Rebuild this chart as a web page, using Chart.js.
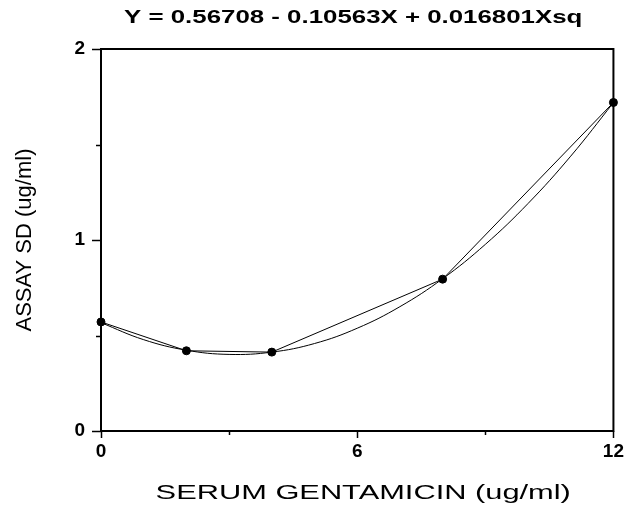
<!DOCTYPE html>
<html>
<head>
<meta charset="utf-8">
<script src="https://cdn.jsdelivr.net/npm/chart.js@4/dist/chart.umd.min.js"></script>
<style>
  html, body { margin: 0; padding: 0; background: #ffffff; }
  #wrap { width: 633px; height: 506px; }
</style>
</head>
<body>
<div id="wrap"><canvas id="c" width="633" height="506"></canvas></div>
<script>
// ---- data ----
const chartTitle = 'Y = 0.56708 - 0.10563X + 0.016801Xsq';
const xAxisTitle = 'SERUM GENTAMICIN (ug/ml)';
const yAxisTitle = 'ASSAY SD (ug/ml)';

// observed points
const concs = [0, 2, 4, 8, 12];
const sdValues = [0.571, 0.42, 0.413, 0.795, 1.72];

// fitted quadratic curve
const fitX = [0, 1, 2, 3, 4, 5, 6, 7, 8, 9, 10, 11, 12];
const fitY = [0.567, 0.478, 0.423, 0.401, 0.413, 0.458, 0.538, 0.651, 0.797, 0.977, 1.191, 1.439, 1.719];

const xTickLabels = [0, 6, 12];
const yTickLabels = [0, 1, 2];

// ---- helpers: widen text the way the reference's wide font looks ----
function wrapStretch(obj, method, sx, dx) {
  if (!obj || !obj[method] || obj[method].__ws) return;
  const orig = obj[method];
  const f = function (...args) {
    const ctx = this.ctx;
    const a = this.chart.chartArea;
    const cx = (a.left + a.right) / 2;
    ctx.save();
    ctx.translate(cx + (dx || 0), 0);
    ctx.scale(sx, 1);
    ctx.translate(-cx, 0);
    orig.apply(this, args);
    ctx.restore();
  };
  f.__ws = true;
  obj[method] = f;
}

const stretchPlugin = {
  id: 'stretch',
  beforeDraw(chart) {
    wrapStretch(chart.titleBlock, 'draw', 1.36, -4);
    wrapStretch(chart.scales.x, 'drawTitle', 1.54, 6);
  }
};

const framePlugin = {
  id: 'frame',
  afterDraw(chart) {
    const ctx = chart.ctx;
    const a = chart.chartArea;
    ctx.save();
    ctx.strokeStyle = '#000';
    ctx.lineWidth = 2;
    ctx.strokeRect(a.left, a.top, a.right - a.left, a.bottom - a.top);
    // tick marks (outside the frame)
    ctx.lineWidth = 1.5;
    const xs = chart.scales.x, ys = chart.scales.y;
    xs.ticks.forEach(t => {
      const px = Math.round(xs.getPixelForValue(t.value)) + 0.5;
      const len = xTickLabels.includes(t.value) ? 7 : 4;
      ctx.beginPath();
      ctx.moveTo(px, a.bottom);
      ctx.lineTo(px, a.bottom + len);
      ctx.stroke();
    });
    ys.ticks.forEach(t => {
      const py = Math.round(ys.getPixelForValue(t.value)) + 0.5;
      const len = yTickLabels.includes(t.value) ? 9 : 5;
      ctx.beginPath();
      ctx.moveTo(a.left - len, py);
      ctx.lineTo(a.left, py);
      ctx.stroke();
    });
    ctx.restore();
  }
};

const FONT = '"Liberation Sans", Arial, Helvetica, sans-serif';

new Chart(document.getElementById('c'), {
  type: 'scatter',
  data: {
    datasets: [
      {
        label: 'Observed',
        data: concs.map((x, i) => ({ x: x, y: sdValues[i] })),
        showLine: true,
        borderColor: '#000',
        backgroundColor: '#000',
        borderWidth: 1,
        pointRadius: 4,
        pointHoverRadius: 4,
        tension: 0,
        clip: false
      },
      {
        label: 'Fit',
        data: fitX.map((x, i) => ({ x: x, y: fitY[i] })),
        showLine: true,
        borderColor: '#000',
        backgroundColor: '#000',
        borderWidth: 1,
        pointRadius: 0,
        tension: 0.4,
        clip: false
      }
    ]
  },
  options: {
    responsive: false,
    devicePixelRatio: 1,
    animation: false,
    events: [],
    layout: { padding: { left: 0, right: 16, top: 0, bottom: 0 } },
    plugins: {
      legend: { display: false },
      tooltip: { enabled: false },
      title: {
        display: true,
        text: chartTitle,
        fullSize: false,
        color: '#000',
        font: { family: FONT, size: 19, weight: 'bold', lineHeight: 1.2 },
        padding: { top: 6, bottom: 20.2 }
      }
    },
    scales: {
      x: {
        type: 'linear',
        min: 0,
        max: 12,
        afterFit(scale) { scale.height = 75; },
        border: { display: false },
        grid: { display: false, drawTicks: false },
        ticks: {
          stepSize: 3,
          padding: 9,
          color: '#000',
          font: { family: FONT, size: 19, weight: 'bold' },
          maxRotation: 0,
          autoSkip: false,
          callback: (v) => xTickLabels.includes(v) ? String(v) : ''
        },
        title: {
          display: true,
          text: xAxisTitle,
          color: '#000',
          font: { family: FONT, size: 20, lineHeight: 1.2 },
          padding: { top: 0, bottom: 1 }
        }
      },
      y: {
        type: 'linear',
        min: 0,
        max: 2,
        afterFit(scale) { scale.width = 101; },
        border: { display: false },
        grid: { display: false, drawTicks: false },
        ticks: {
          stepSize: 0.5,
          padding: 16,
          color: '#000',
          font: { family: FONT, size: 19, weight: 'bold' },
          autoSkip: false,
          callback: (v) => yTickLabels.includes(v) ? String(v) : ''
        },
        title: {
          display: true,
          text: yAxisTitle,
          color: '#000',
          font: { family: FONT, size: 22, lineHeight: 1.2 },
          padding: { top: 12, bottom: 0 }
        }
      }
    }
  },
  plugins: [stretchPlugin, framePlugin]
});
</script>
</body>
</html>
